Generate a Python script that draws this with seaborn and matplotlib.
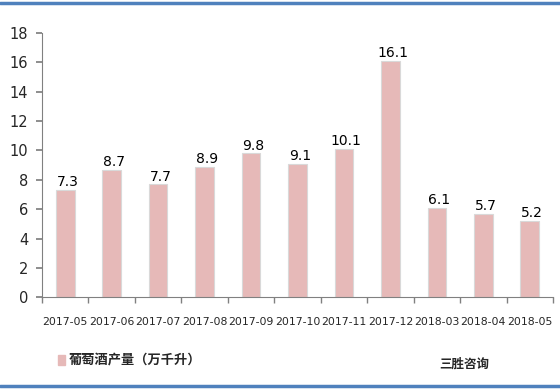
import matplotlib
matplotlib.use("Agg")
import matplotlib.pyplot as plt
import seaborn as sns
import pandas as pd
import numpy as np

months = ["2017-05", "2017-06", "2017-07", "2017-08", "2017-09", "2017-10",
          "2017-11", "2017-12", "2018-03", "2018-04", "2018-05"]
values = [7.3, 8.7, 7.7, 8.9, 9.8, 9.1, 10.1, 16.1, 6.1, 5.7, 5.2]
series_name = "葡萄酒产量（万千升）"
source = "三胜咨询"
yticks = [0, 2, 4, 6, 8, 10, 12, 14, 16, 18]

sns.set_theme(style="white")
plt.rcParams['font.family'] = ['Noto Sans CJK SC', 'DejaVu Sans']

df = pd.DataFrame({"month": months, "value": values})

fig = plt.figure(figsize=(5.6, 3.9), dpi=100)
ax = fig.add_axes([0.075, 0.238, 0.9125, 0.677])

bar_color = "#e6b9b8"
sns.barplot(data=df, x="month", y="value", color=bar_color, width=0.4,
            edgecolor="#d9d9d9", linewidth=0.8, saturation=1, ax=ax)

for i, v in enumerate(values):
    ax.text(i + 0.05, v + 0.05, f"{v:.1f}", ha="center", va="bottom", fontsize=10,
            color="black", family="DejaVu Sans")

ax.set_ylim(0, 18)
ax.set_xlim(-0.5, len(months) - 0.5)
ax.set_yticks(yticks)
ax.set_yticklabels([str(t) for t in yticks], fontsize=10.5, family="DejaVu Sans")
ax.set_xticks(range(len(months)))
ax.set_xticklabels(months, fontsize=7.8, family="DejaVu Sans")
ax.set_xlabel("")
ax.set_ylabel("")
ax.tick_params(axis="x", length=0, pad=14)
ax.tick_params(axis="y", length=4, color="#808080", direction="out", left=True, pad=6)
ax.set_xticks(np.arange(-0.5, len(months)), minor=True)
ax.tick_params(axis="x", which="minor", length=4, color="#808080", direction="out", bottom=True)

for s in ["top", "right"]:
    ax.spines[s].set_visible(False)
for s in ["left", "bottom"]:
    ax.spines[s].set_color("#808080")
    ax.spines[s].set_linewidth(0.8)

# legend
fig.patches.append(plt.Rectangle((0.103, 0.065), 0.013, 0.025, transform=fig.transFigure,
                                 color=bar_color, figure=fig))
fig.text(0.123, 0.077, series_name, fontsize=9.5, va="center", ha="left", fontweight="bold")
fig.text(0.785, 0.065, source, fontsize=9, va="center", ha="left", fontweight="bold")

# border lines top and bottom
fig.add_artist(plt.Line2D([0, 1], [0.992, 0.992], transform=fig.transFigure, color="#4f81bd", lw=2.5))
fig.add_artist(plt.Line2D([0, 1], [0.01, 0.01], transform=fig.transFigure, color="#4f81bd", lw=2.5))

fig.savefig("out.png", dpi=100)
